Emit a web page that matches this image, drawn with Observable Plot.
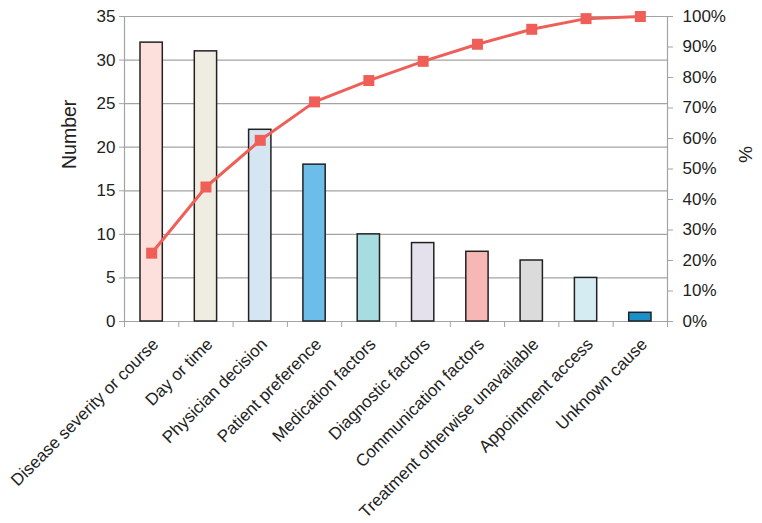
<!DOCTYPE html>
<html>
<head>
<meta charset="utf-8">
<script src="https://cdn.jsdelivr.net/npm/d3@7"></script>
<script src="https://cdn.jsdelivr.net/npm/@observablehq/plot@0.6"></script>
<style>
  html, body { margin: 0; padding: 0; background: #fff; }
  #chart svg { display: block; }
</style>
</head>
<body>
<div id="chart"></div>
<script>
const categories = [
  "Disease severity or course",
  "Day or time",
  "Physician decision",
  "Patient preference",
  "Medication factors",
  "Diagnostic factors",
  "Communication factors",
  "Treatment otherwise unavailable",
  "Appointment access",
  "Unknown cause"
];
const counts = [32, 31, 22, 18, 10, 9, 8, 7, 5, 1];
const cumulativePct = [22.4, 44.1, 59.4, 72.0, 79.0, 85.3, 90.9, 95.8, 99.3, 100];
const barColors = ["#fde0dc", "#efece1", "#d5e5f2", "#6cbde9", "#a7dce1", "#e4e0ec", "#f7b8b5", "#dbdbdb", "#d4ecf2", "#1b8fc7"];
const countTicks = [0, 5, 10, 15, 20, 25, 30, 35];
const pctTicks = [0, 10, 20, 30, 40, 50, 60, 70, 80, 90, 100];

const yMax = 35;
const toY = p => p * yMax / 100;

const data = categories.map((c, i) => ({i, category: c, count: counts[i], pct: cumulativePct[i], color: barColors[i]}));

const grid = "#a3a3a3";
const lineColor = "#ef5f58";

const chart = Plot.plot({
  width: 762,
  height: 523,
  marginLeft: 124,
  marginRight: 95,
  marginTop: 16,
  marginBottom: 202,
  style: {fontFamily: "'Liberation Sans', Arial, Helvetica, sans-serif", fontSize: "17px", color: "#222", background: "#fff"},
  x: {domain: [0, categories.length], axis: null},
  y: {domain: [0, yMax], axis: null},
  color: {type: "identity"},
  marks: [
    Plot.ruleY(countTicks, {stroke: grid, strokeWidth: 1.2}),
    Plot.ruleX([0, categories.length], {stroke: grid, strokeWidth: 1.2}),
    Plot.axisY(countTicks, {anchor: "left", tickSize: 5, tickPadding: 4, stroke: grid, fill: "#222", fontSize: 17, label: null}),
    Plot.axisY(pctTicks.map(toY), {anchor: "right", tickSize: 5, tickPadding: 10, stroke: grid, fill: "#222", fontSize: 17, label: null, tickFormat: d => `${Math.round(d * 100 / yMax)}%`}),
    Plot.axisX(d3.range(0, categories.length + 1), {anchor: "bottom", tickSize: 6, stroke: grid, tickFormat: () => "", label: null}),
    Plot.rectY(data, {x1: d => d.i, x2: d => d.i + 1, y: "count", fill: "color", insetLeft: 16, insetRight: 16, stroke: "#222", strokeWidth: 1.5}),
    Plot.line(data, {x: d => d.i + 0.5, y: d => toY(d.pct), stroke: lineColor, strokeWidth: 3}),
    Plot.dot(data, {x: d => d.i + 0.5, y: d => toY(d.pct), symbol: "square", r: 6.2, fill: lineColor, stroke: null}),
    Plot.text(data, {x: d => d.i + 0.5, y: 0, text: "category", rotate: -45, textAnchor: "end", dx: 4, dy: 20, fontSize: 17, fill: "#222"}),
    Plot.text(["Number"], {frameAnchor: "left", dx: -55, rotate: -90, fontSize: 19.5, fill: "#222"}),
    Plot.text(["%"], {frameAnchor: "right", dx: 78, dy: -6, rotate: 90, fontSize: 19, fill: "#222"})
  ]
});
document.getElementById("chart").appendChild(chart);
</script>
</body>
</html>
